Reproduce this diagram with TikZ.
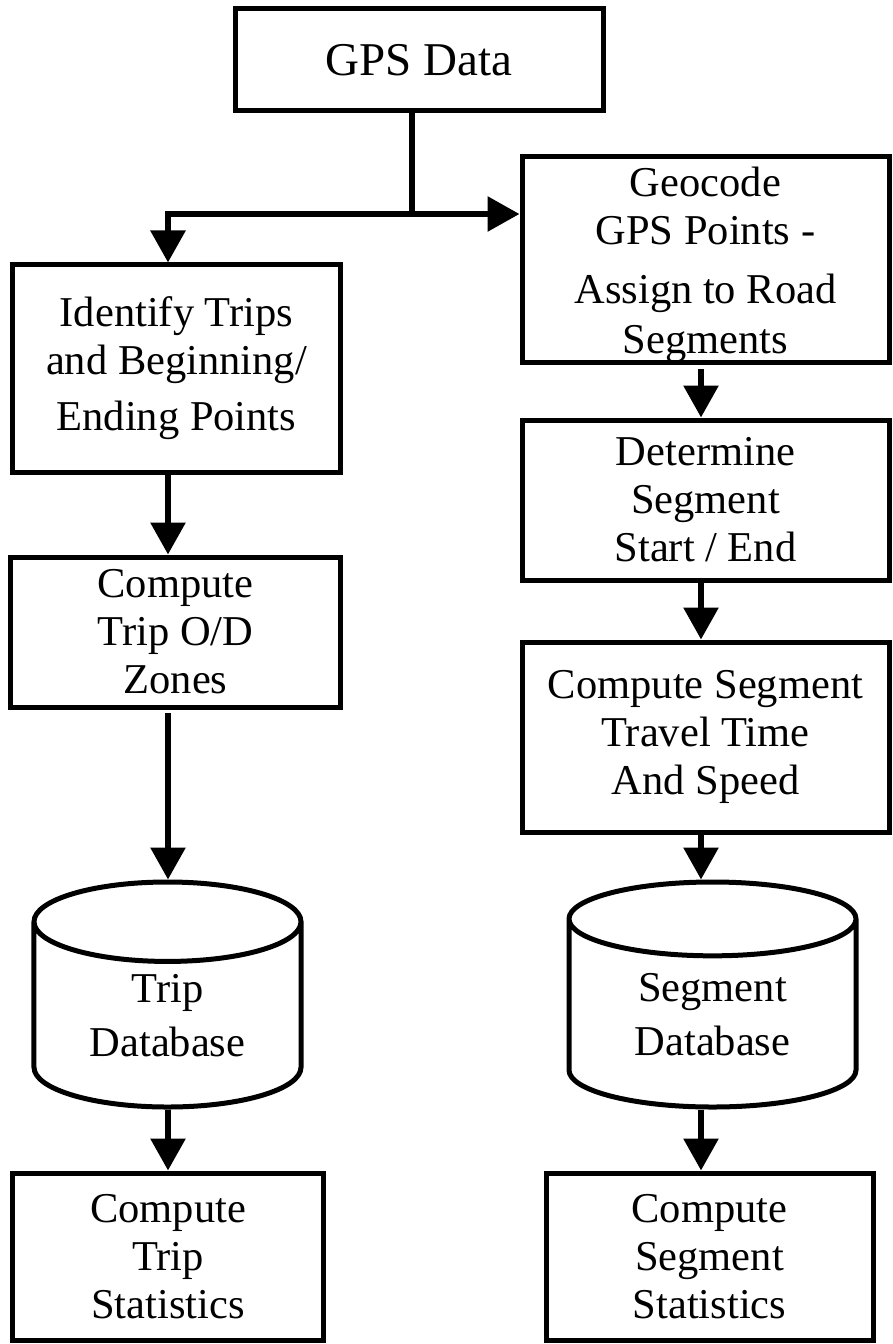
\documentclass[tikz,border=0pt]{standalone}
\usepackage{fontspec}
\setmainfont{Liberation Serif}
\usetikzlibrary{shapes.geometric,arrows.meta,positioning}

\begin{document}
\begin{tikzpicture}[x=1bp,y=-1bp,>={Triangle[width=34bp,length=32bp]},
  every node/.style={font=\fontsize{42.5bp}{48bp}\selectfont},
  box/.style={draw,line width=5bp,rectangle,align=center,inner sep=0pt},
  dbase/.style={draw,line width=5bp,cylinder,shape border rotate=90,align=center,inner sep=0pt,anchor=shape center},
  flow/.style={line width=6bp}]
\useasboundingbox[fill=white] (0,0) rectangle (892,1344);
\coordinate (colL) at (168,0);
\coordinate (colR) at (701,0);
\coordinate (split) at (412,214);
% boxes
\node[box,minimum width=368bp,minimum height=102bp,font=\fontsize{47bp}{52bp}\selectfont] (gps) at (419,60) {GPS Data};
\node[box,minimum width=327bp,minimum height=207bp] (ident) at (176.5,368.5) {Identify Trips\\and Beginning/\\[8bp]Ending Points};
\node[box,minimum width=329bp,minimum height=150bp] (od) at (175.5,632) {Compute\\Trip O/D\\Zones};
\node[dbase,aspect=0.51,minimum width=267bp,minimum height=225bp] (tripdb) at (167.5,994.5) {Trip\\[6bp]Database};
\node[box,minimum width=311bp,minimum height=167bp] (tripstat) at (168,1256.5) {Compute\\Trip\\Statistics};
\node[box,minimum width=367bp,minimum height=205bp] (geo) at (705.5,259.5) {\rule{0pt}{40bp}Geocode\\GPS Points -\\[11bp]Assign to Road\\[2bp]Segments};
\node[box,minimum width=367bp,minimum height=160bp] (det) at (705.5,500) {Determine\\Segment\\Start / End};
\node[box,minimum width=367bp,minimum height=190bp] (segcomp) at (705.5,737) {Compute Segment\\Travel Time\\And Speed};
\node[dbase,aspect=0.474,minimum width=287bp,minimum height=225bp] (segdb) at (712.5,994.5) {Segment\\[6bp]Database};
\node[box,minimum width=327bp,minimum height=167bp] (segstat) at (709.5,1256.5) {Compute\\Segment\\Statistics};
% connectors
\draw[flow] (gps.south -| split) -- (split);
\draw[flow,->] (split) -| (ident.north -| colL);
\draw[flow,->] (split) -- (geo.west |- split);
\draw[flow,->] (ident.south -| colL) -- (od.north -| colL);
\draw[flow,->] ([yshift=-3bp]od.south -| colL) -- (tripdb.north -| colL);
\draw[flow,->] (tripdb.south -| colL) -- (tripstat.north -| colL);
\draw[flow,->] ([yshift=-4bp]geo.south -| colR) -- (det.north -| colR);
\draw[flow,->] (det.south -| colR) -- (segcomp.north -| colR);
\draw[flow,->] (segcomp.south -| colR) -- (segdb.north -| colR);
\draw[flow,->] (segdb.south -| colR) -- (segstat.north -| colR);
\end{tikzpicture}
\end{document}
